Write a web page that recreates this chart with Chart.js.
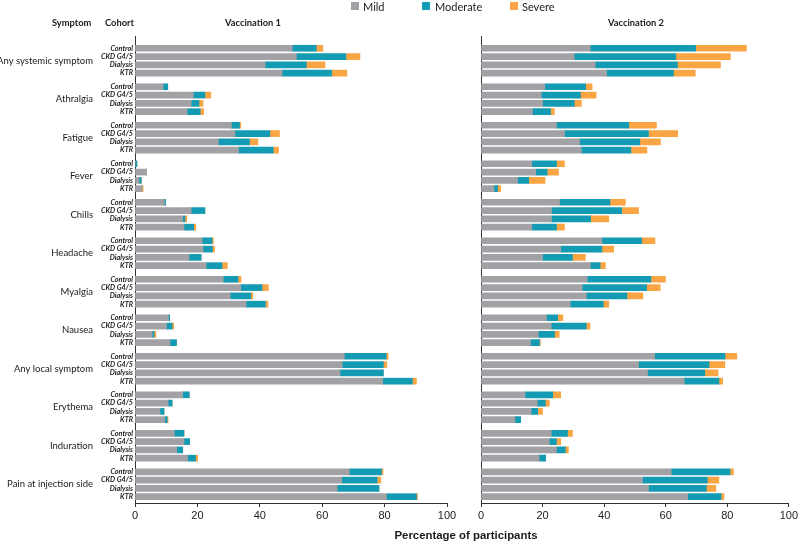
<!DOCTYPE html>
<html>
<head>
<meta charset="utf-8">
<script src="https://cdn.jsdelivr.net/npm/chart.js@4.4.1/dist/chart.umd.min.js"></script>
<style>
html,body{margin:0;padding:0;width:800px;height:544px;overflow:hidden;background:#fff;font-family:Lato,sans-serif;color:#1a1a1a}
.abs{position:absolute;white-space:nowrap;line-height:1}
.wrap{position:absolute;top:0;height:544px}
#w1{left:0;width:460px}
#w2{left:460px;width:340px}
.hdr{font-weight:bold;font-size:9.3px;transform:translateY(-50%)}
.ctr{transform:translate(-50%,-50%)}
.sq{position:absolute;width:8px;height:8px;top:2px}
.lg{font-size:11px;top:6px;transform:translateY(-50%);color:#222}
#xtitle{font-family:"Liberation Sans",Arial,sans-serif;font-weight:bold;font-size:11.4px;left:466px;top:536px}
</style>
</head>
<body>
<div class="wrap" id="w1"><canvas id="c1"></canvas></div>
<div class="wrap" id="w2"><canvas id="c2"></canvas></div>

<div class="sq" style="left:351px;background:#a2a2a6"></div><div class="abs lg" style="left:363px">Mild</div>
<div class="sq" style="left:422px;background:#139bb4"></div><div class="abs lg" style="left:435px">Moderate</div>
<div class="sq" style="left:510px;background:#f9a544"></div><div class="abs lg" style="left:522px">Severe</div>

<div class="abs hdr" style="left:52px;top:23px">Symptom</div>
<div class="abs hdr" style="left:105px;top:23px">Cohort</div>
<div class="abs hdr ctr" style="left:253px;top:23px;transform:translate(-50%,-50%)">Vaccination 1</div>
<div class="abs hdr ctr" style="left:636px;top:23px;transform:translate(-50%,-50%)">Vaccination 2</div>
<div class="abs ctr" id="xtitle">Percentage of participants</div>

<script>
const symptoms = ['Any systemic symptom','Athralgia','Fatigue','Fever','Chills','Headache','Myalgia','Nausea','Any local symptom','Erythema','Induration','Pain at injection side'];
const cohorts = ['Control','CKD G4/5','Dialysis','KTR'];
const xTicks = [0,20,40,60,80,100];
const severities = ['Mild','Moderate','Severe'];
const severityColors = ['#a2a2a6','#139bb4','#f9a544'];

// Each row: [Control, CKD G4/5, Dialysis, KTR]  (percent of participants)
const v1Mild = [
  [50.4,51.7,41.7,47.1],[9.0,18.7,18.0,16.7],[30.9,32.0,26.7,33.2],[0,3.7,1.3,2.2],
  [9.4,18.0,15.3,15.7],[21.5,21.8,17.3,22.8],[28.3,33.9,30.5,35.6],[10.7,10.1,5.5,11.2],
  [67.1,66.4,65.7,79.4],[15.3,10.6,8.0,9.5],[12.6,15.7,13.4,16.9],[68.7,66.3,64.8,80.6]
];
const v1Moderate = [
  [7.7,15.9,13.2,15.9],[1.5,3.7,2.5,4.2],[2.6,11.2,10.0,11.1],[0.6,0,0.7,0],
  [0.4,4.4,0.7,3.1],[3.2,3.0,3.9,5.1],[4.7,6.8,6.6,6.2],[0.4,1.8,0.6,2.1],
  [13.4,13.2,13.9,9.5],[2.1,1.3,1.3,0.8],[3.1,1.8,1.9,2.5],[10.3,11.3,13.4,9.6]
];
const v1Severe = [
  [2.1,4.5,6.0,4.9],[0,1.9,1.3,1.1],[0.4,3.1,2.7,1.7],[0,0,0,0.4],
  [0,0,0.6,0.7],[0.4,0.7,0,1.7],[1.0,2.0,0.7,0.8],[0,0.5,0.6,0],
  [0.6,1.1,0,1.3],[0,0,0,0.3],[0,0,0,0.7],[0.5,1.2,0,0.4]
];
const v2Mild = [
  [35.5,30.3,37.1,40.8],[20.7,19.6,20.0,16.7],[24.5,27.1,32.0,32.6],[16.5,17.8,11.9,4.2],
  [25.5,22.9,22.9,16.5],[39.3,25.9,20.0,35.5],[34.5,32.9,34.2,29.0],[21.3,22.8,18.6,16.1],
  [56.4,51.2,54.1,66.0],[14.3,18.3,16.3,11.0],[22.8,22.2,24.5,18.9],[61.8,52.5,54.4,67.1]
];
const v2Moderate = [
  [34.2,33.0,26.7,21.7],[13.3,12.7,10.3,5.9],[23.5,27.3,19.6,16.1],[8.0,3.7,3.6,1.2],
  [16.4,22.8,12.7,8.0],[12.9,13.4,9.7,3.2],[20.7,20.9,13.2,10.7],[3.6,11.4,5.3,2.9],
  [22.9,22.9,18.6,11.3],[9.0,2.6,2.1,1.9],[5.3,2.3,2.9,2.1],[19.1,21.0,18.8,10.9]
];
const v2Severe = [
  [16.5,17.7,14.0,7.1],[2.1,5.1,2.3,1.2],[9.0,9.5,6.7,5.2],[2.6,3.7,5.3,1.0],
  [5.0,5.5,5.9,2.6],[4.3,3.8,4.2,1.7],[4.7,4.4,5.2,1.8],[1.7,1.2,1.5,0.3],
  [3.8,5.1,4.3,1.2],[2.6,1.3,1.6,0],[1.6,1.4,1.0,0],[1.1,3.8,3.1,0.9]
];

// Row layout along the (linear) index axis: one unit per cohort row, extra gap between symptom groups
const GROUP_STEP = 4.64;
const rowPos = [];
symptoms.forEach((s,i)=>cohorts.forEach((c,j)=>rowPos.push(i*GROUP_STEP + j)));
const groupCenters = symptoms.map((s,i)=>i*GROUP_STEP + 1.5);
const lastPos = (symptoms.length-1)*GROUP_STEP + cohorts.length - 1;
const Y_MIN = -1.48, Y_MAX = lastPos + 0.76;

function toPoints(rows){
  const flat = rows.flat();
  return flat.map((v,k)=>({x:v, y:rowPos[k]}));
}

function makeChart(id, series, isLeft){
  const datasets = series.map((rows,k)=>({
    label: severities[k], data: toPoints(rows), backgroundColor: severityColors[k],
    borderWidth:0, barThickness:6, xAxisID:'x', yAxisID:'y'
  }));
  const scales = {
    x: {
      type:'linear', min:0, max:100, stacked:true, position:'bottom', offset:false,
      afterBuildTicks: s => { s.ticks = xTicks.map(v=>({value:v})); },
      ticks:{font:{family:'"Liberation Sans", Arial, sans-serif', size:11}, color:'#222', padding:2, maxRotation:0, autoSkip:false},
      grid:{display:true, drawOnChartArea:false, drawTicks:true, tickLength:4, color:'#333', lineWidth:1, offset:false},
      border:{display:true, color:'#333', width:1},
      afterFit: s => { s.height = 20; }
    },
    y: {
      type:'linear', axis:'y', min:Y_MIN, max:Y_MAX, reverse:true, stacked:true, position:'left', weight:0, offset:false,
      afterBuildTicks: s => { s.ticks = rowPos.map(v=>({value:v})); },
      ticks:{display:isLeft, autoSkip:false, padding:2,
        callback:(v,i)=>cohorts[i % cohorts.length],
        font:{family:'Lato', size:7.2, style:'italic', weight:'bold'}, color:'#1a1a1a'},
      grid:{display:false, drawTicks:false, offset:false},
      border:{display:true, color:'#333', width:1},
      afterFit: s => { s.width = isLeft ? 38 : 0; }
    }
  };
  if (isLeft){
    scales.ySym = {
      type:'linear', axis:'y', min:Y_MIN, max:Y_MAX, reverse:true, position:'left', weight:1, offset:false,
      afterBuildTicks: s => { s.ticks = groupCenters.map(v=>({value:v})); },
      ticks:{autoSkip:false, padding:4, callback:(v,i)=>symptoms[i],
        font:{family:'Lato', size:9.5}, color:'#1a1a1a'},
      grid:{display:false, drawTicks:false, offset:false},
      border:{display:false},
      afterFit: s => { s.width = 97; }
    };
  }
  return new Chart(document.getElementById(id), {
    type:'bar',
    data:{datasets},
    options:{
      indexAxis:'y', responsive:true, maintainAspectRatio:false, animation:false,
      layout:{padding: isLeft ? {top:36,right:13,bottom:21,left:0} : {top:36,right:8,bottom:21,left:21}},
      plugins:{legend:{display:false}, tooltip:{enabled:false}},
      scales
    }
  });
}

makeChart('c1', [v1Mild, v1Moderate, v1Severe], true);
makeChart('c2', [v2Mild, v2Moderate, v2Severe], false);
</script>
</body>
</html>
